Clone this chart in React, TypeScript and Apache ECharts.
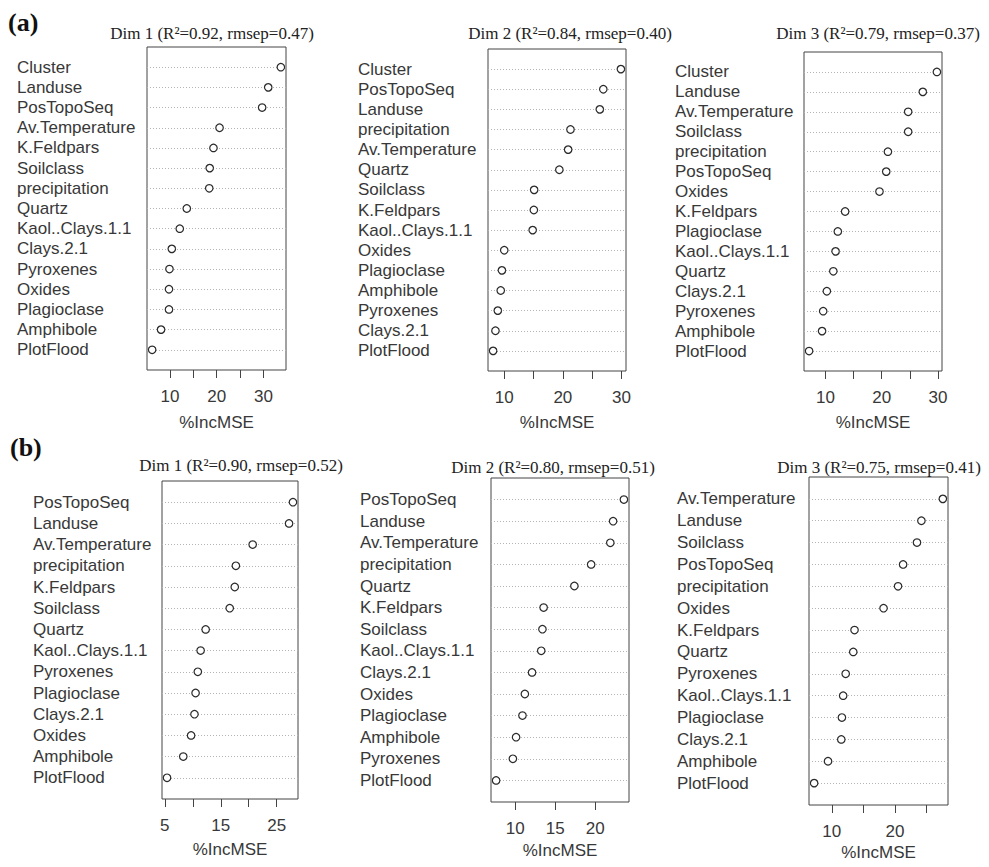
import React, { useEffect, useRef } from "react";
import * as echarts from "echarts";

// ---- Data ----
const a1Names = ["Cluster", "Landuse", "PosTopoSeq", "Av.Temperature", "K.Feldpars", "Soilclass", "precipitation", "Quartz", "Kaol..Clays.1.1", "Clays.2.1", "Pyroxenes", "Oxides", "Plagioclase", "Amphibole", "PlotFlood"];
const a1Values = [33.7, 31.0, 29.7, 20.6, 19.3, 18.5, 18.4, 13.6, 12.1, 10.4, 9.9, 9.8, 9.8, 8.1, 6.2];

const a2Names = ["Cluster", "PosTopoSeq", "Landuse", "precipitation", "Av.Temperature", "Quartz", "Soilclass", "K.Feldpars", "Kaol..Clays.1.1", "Oxides", "Plagioclase", "Amphibole", "Pyroxenes", "Clays.2.1", "PlotFlood"];
const a2Values = [29.9, 26.9, 26.3, 21.3, 20.9, 19.4, 15.1, 15.05, 14.85, 10.0, 9.6, 9.4, 8.9, 8.5, 8.1];

const a3Names = ["Cluster", "Landuse", "Av.Temperature", "Soilclass", "precipitation", "PosTopoSeq", "Oxides", "K.Feldpars", "Plagioclase", "Kaol..Clays.1.1", "Quartz", "Clays.2.1", "Pyroxenes", "Amphibole", "PlotFlood"];
const a3Values = [29.8, 27.3, 24.7, 24.7, 21.1, 20.8, 19.6, 13.5, 12.2, 11.8, 11.4, 10.25, 9.6, 9.4, 7.1];

const b1Names = ["PosTopoSeq", "Landuse", "Av.Temperature", "precipitation", "K.Feldpars", "Soilclass", "Quartz", "Kaol..Clays.1.1", "Pyroxenes", "Plagioclase", "Clays.2.1", "Oxides", "Amphibole", "PlotFlood"];
const b1Values = [27.9, 27.2, 20.7, 17.7, 17.5, 16.6, 12.3, 11.4, 10.9, 10.5, 10.3, 9.7, 8.3, 5.4];

const b2Names = ["PosTopoSeq", "Landuse", "Av.Temperature", "precipitation", "Quartz", "K.Feldpars", "Soilclass", "Kaol..Clays.1.1", "Clays.2.1", "Oxides", "Plagioclase", "Amphibole", "Pyroxenes", "PlotFlood"];
const b2Values = [23.6, 22.25, 21.9, 19.5, 17.4, 13.55, 13.4, 13.25, 12.1, 11.2, 10.9, 10.1, 9.7, 7.6];

const b3Names = ["Av.Temperature", "Landuse", "Soilclass", "PosTopoSeq", "precipitation", "Oxides", "K.Feldpars", "Quartz", "Pyroxenes", "Kaol..Clays.1.1", "Plagioclase", "Clays.2.1", "Amphibole", "PlotFlood"];
const b3Values = [27.6, 24.2, 23.5, 21.3, 20.5, 18.2, 13.6, 13.4, 12.2, 11.8, 11.6, 11.5, 9.4, 7.2];

const a1Ticks = [10, 15, 20, 25, 30];
const a1TickLabels = [10, 20, 30];
const a2Ticks = [10, 15, 20, 25, 30];
const a2TickLabels = [10, 20, 30];
const a3Ticks = [10, 15, 20, 25, 30];
const a3TickLabels = [10, 20, 30];
const b1Ticks = [5, 10, 15, 20, 25];
const b1TickLabels = [5, 15, 25];
const b2Ticks = [10, 15, 20];
const b2TickLabels = [10, 15, 20];
const b3Ticks = [10, 15, 20, 25];
const b3TickLabels = [10, 20];

const titles = [
  "Dim 1 (R\u00B2=0.92, rmsep=0.47)",
  "Dim 2 (R\u00B2=0.84, rmsep=0.40)",
  "Dim 3 (R\u00B2=0.79, rmsep=0.37)",
  "Dim 1 (R\u00B2=0.90, rmsep=0.52)",
  "Dim 2 (R\u00B2=0.80, rmsep=0.51)",
  "Dim 3 (R\u00B2=0.75, rmsep=0.41)",
];
const xAxisTitle = "%IncMSE";

// ---- Layout ----
const SANS = "'Liberation Sans', Arial, Helvetica, sans-serif";
const SERIF = "'Liberation Serif', 'Times New Roman', Times, serif";
const TXT = "#383838";

const panels = [
  { names: a1Names, values: a1Values, ticks: a1Ticks, labels: a1TickLabels, grid: { left: 147, top: 47, width: 139, height: 323 }, labelX: 17, title: { x: 212, y: 33 }, nameGap: 44 },
  { names: a2Names, values: a2Values, ticks: a2Ticks, labels: a2TickLabels, grid: { left: 488, top: 49, width: 138, height: 322 }, labelX: 358, title: { x: 570, y: 33 }, nameGap: 43 },
  { names: a3Names, values: a3Values, ticks: a3Ticks, labels: a3TickLabels, grid: { left: 804, top: 52, width: 138, height: 319 }, labelX: 675, title: { x: 878, y: 33 }, nameGap: 43 },
  { names: b1Names, values: b1Values, ticks: b1Ticks, labels: b1TickLabels, grid: { left: 162, top: 481, width: 136, height: 318 }, labelX: 33, title: { x: 241, y: 465 }, nameGap: 42 },
  { names: b2Names, values: b2Values, ticks: b2Ticks, labels: b2TickLabels, grid: { left: 491, top: 478, width: 138, height: 324 }, labelX: 360, title: { x: 553, y: 467 }, nameGap: 40 },
  { names: b3Names, values: b3Values, ticks: b3Ticks, labels: b3TickLabels, grid: { left: 809, top: 477, width: 139, height: 328 }, labelX: 677, title: { x: 879, y: 467 }, nameGap: 39 },
];

export default function App() {
  const ref = useRef<HTMLDivElement>(null);

  useEffect(() => {
    if (!ref.current) return;
    const chart = echarts.init(ref.current, undefined, { renderer: "svg" });

    const grids: any[] = [];
    const xAxes: any[] = [];
    const yAxes: any[] = [];
    const series: any[] = [];
    const graphics: any[] = [];

    panels.forEach((p, k) => {
      const n = p.names.length;
      const dmin = Math.min(...p.values);
      const dmax = Math.max(...p.values);
      const ext = 0.04 * (dmax - dmin);
      grids.push({ ...p.grid, show: true, borderColor: "#444", borderWidth: 1, backgroundColor: "transparent", containLabel: false, outerBoundsMode: "none" });
      xAxes.push({
        type: "value",
        gridIndex: k,
        min: dmin - ext,
        max: dmax + ext,
        axisLine: { show: false },
        axisTick: { show: true, length: 8, inside: false, customValues: p.ticks, lineStyle: { color: "#444", width: 1 } },
        axisLabel: { show: true, customValues: p.labels, margin: 18, fontFamily: SANS, fontSize: 17, color: TXT, hideOverlap: false },
        splitLine: { show: false },
        name: xAxisTitle,
        nameLocation: "middle",
        nameGap: p.nameGap,
        nameTextStyle: { fontFamily: SANS, fontSize: 17, color: TXT },
      });
      yAxes.push({
        type: "value",
        gridIndex: k,
        min: 0,
        max: n + 1,
        interval: 1,
        axisLine: { show: false },
        axisTick: { show: false },
        axisLabel: {
          show: true,
          align: "left",
          margin: p.grid.left - p.labelX,
          fontFamily: SANS,
          fontSize: 17,
          color: TXT,
          showMinLabel: false,
          showMaxLabel: false,
          hideOverlap: false,
          formatter: (v: number) => p.names[n - v] ?? "",
        },
        splitLine: { show: true, showMinLine: false, showMaxLine: false, lineStyle: { type: [1, 2], color: "#b4b4b4", width: 1 } },
      });
      series.push({
        type: "scatter",
        xAxisIndex: k,
        yAxisIndex: k,
        symbol: "circle",
        symbolSize: 7.5,
        itemStyle: { color: "#ffffff", borderColor: "#2a2a2a", borderWidth: 1.2, opacity: 1 },
        data: p.values.map((v, i) => [v, n - i]),
        silent: true,
      });
      graphics.push({
        type: "text",
        x: p.title.x,
        y: p.title.y,
        style: { text: titles[k], fontFamily: SERIF, fontSize: 17, fill: "#222", align: "center", verticalAlign: "middle" },
      });
    });

    graphics.push({ type: "text", x: 8, y: 22, style: { text: "(a)", fontFamily: SERIF, fontSize: 26, fontWeight: "bold", fill: "#111", align: "left", verticalAlign: "middle" } });
    graphics.push({ type: "text", x: 10, y: 447, style: { text: "(b)", fontFamily: SERIF, fontSize: 26, fontWeight: "bold", fill: "#111", align: "left", verticalAlign: "middle" } });

    chart.setOption({
      animation: false,
      backgroundColor: "#ffffff",
      grid: grids,
      xAxis: xAxes,
      yAxis: yAxes,
      series,
      graphic: graphics,
    });

    return () => chart.dispose();
  }, []);

  return <div ref={ref} style={{ position: "fixed", left: 0, top: 0, width: 989, height: 867 }} />;
}
